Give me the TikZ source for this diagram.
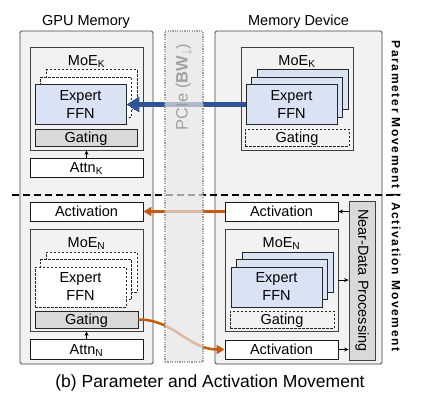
\documentclass[tikz,border=0pt]{standalone}
\usepackage{fontspec}
\setmainfont{Liberation Sans}
\usetikzlibrary{arrows.meta}

\definecolor{panelgray}{HTML}{F2F2F2}
\definecolor{edgegray}{HTML}{404040}
\definecolor{expblue}{HTML}{DAE3F3}
\definecolor{gategray}{HTML}{D9D9D9}
\definecolor{parblue}{HTML}{2F5597}
\definecolor{actorange}{HTML}{C55A11}
\definecolor{pciegray}{HTML}{E4E4E4}
\definecolor{pcietext}{HTML}{A0A0A0}

\tikzset{
  panel/.style={draw=edgegray,fill=panelgray,line width=0.8pt,rounded corners=1.5pt},
  moebox/.style={draw=edgegray,fill=panelgray,line width=0.8pt,minimum width=113,minimum height=102},
  expsolid/.style={draw=black!85,fill=expblue,line width=0.8pt,minimum width=91,minimum height=40,
    align=center,font=\fontsize{14.5}{18}\selectfont},
  expdash/.style={expsolid,fill=white,dashed,dash pattern=on 2.5pt off 1.5pt},
  gatebox/.style={draw=black!85,fill=gategray,line width=0.8pt,minimum height=17,text height=10.4pt,text depth=0pt},
  gatedash/.style={gatebox,fill=none,dashed,dash pattern=on 2.5pt off 1.5pt},
  whitebox/.style={draw=black!90,fill=white,line width=0.9pt,minimum width=113,minimum height=19,text height=10.4pt,text depth=0pt},
  ndpbox/.style={draw=edgegray,fill=gategray,line width=0.8pt,minimum width=26,minimum height=159},
  tiny/.style={->,>={Stealth[length=4.5pt,width=4pt]},line width=0.7pt},
  parmove/.style={parblue,line width=5pt,-{Triangle[length=13pt,width=15pt]}},
  actmove/.style={actorange,line width=2.5pt,-{Triangle[length=8pt,width=9pt]}},
}

\begin{document}
\begin{tikzpicture}[x=1pt,y=-1pt,every node/.style={font=\fontsize{14.5}{16}\selectfont,inner sep=0pt}]
  \useasboundingbox (0,0) rectangle (435,402);

  % two memories
  \node[panel,minimum width=133,minimum height=333] (gpu) at (86.5,197.5) {};
  \node[panel,minimum width=167,minimum height=333] (dev) at (298.5,197.5) {};
  \node[anchor=base] (gpulbl) at (86,25) {GPU Memory};
  \node[anchor=base] (devlbl) at (298.5,25) {Memory Device};

  % split between the two modes
  \coordinate (sepL) at (12,195);
  \coordinate (sepR) at (400,195);
  \draw[line width=1.2pt,dash pattern=on 7pt off 4pt] (sepL) -- (sepR);

  % --- parameter movement, GPU side
  \node[moebox,minimum height=103] (moeKL) at (86.5,98.5) {};
  \node[anchor=base] (moeKLlbl) at (86.5,65) {MoE\textsubscript{K}};
  \node[expdash] (eKLb) at (91.5,89.5) {};
  \node[expdash] (eKLm) at (86,97) {};
  \node[expsolid] (eKL) at (80.5,104.5) {Expert\\FFN};
  \node[gatebox,minimum width=102] (gKL) at (86,137.5) {Gating};
  \node[whitebox] (attnK) at (86.5,167.5) {Attn\textsubscript{K}};
  \draw[tiny] (attnK) -- (moeKL);

  % --- parameter movement, device side
  \node[moebox,minimum width=112,minimum height=103] (moeKR) at (297,98.5) {};
  \node[anchor=base] (moeKRlbl) at (297,65) {MoE\textsubscript{K}};
  \node[expsolid] (eKRb) at (302.5,89.5) {};
  \node[expsolid] (eKRm) at (297,97) {};
  \node[expsolid] (eKR) at (291.5,104.5) {Expert\\FFN};
  \node[gatedash,minimum width=104] (gKR) at (297,137.5) {Gating};

  % --- activation movement, GPU side
  \node[whitebox] (actL) at (86.5,211.5) {Activation};
  \node[moebox] (moeNL) at (86.5,280) {};
  \node[anchor=base] (moeNLlbl) at (86.5,247) {MoE\textsubscript{N}};
  \node[expdash] (eNLb) at (91.5,272) {};
  \node[expdash] (eNLm) at (86,279.5) {};
  \node[expdash] (eNL) at (80.5,287) {Expert\\FFN};
  \node[gatebox,minimum width=103] (gNL) at (86.5,319.5) {Gating};
  \node[whitebox,minimum height=20] (attnN) at (86.5,349) {Attn\textsubscript{N}};
  \draw[tiny] (attnN) -- (moeNL);

  % --- activation movement, device side
  \node[whitebox] (actR1) at (281.5,211.5) {Activation};
  \node[moebox] (moeNR) at (281.5,280) {};
  \node[anchor=base] (moeNRlbl) at (281.5,247) {MoE\textsubscript{N}};
  \node[expsolid] (eNRb) at (287.5,272) {};
  \node[expsolid] (eNRm) at (282,279.5) {};
  \node[expsolid] (eNR) at (276.5,287) {Expert\\FFN};
  \node[gatedash,minimum width=104] (gNR) at (282,319.5) {Gating};
  \node[whitebox] (actR2) at (281.5,349.5) {Activation};
  \node[ndpbox] (ndp) at (362,280.5) {};
  \node[rotate=-90] (ndplbl) at (ndp.center) {Near-Data Processing};
  \draw[tiny] (moeNR.east) -- (moeNR.east -| ndp.west);
  \draw[tiny] (ndp.west |- actR1.east) -- (actR1.east);
  \draw[tiny] (actR2.east) -- (actR2.east -| ndp.west);

  % movements over the link
  \draw[parmove] (eKR.west) -- (eKL.east);
  \draw[actmove] (actR1.west) -- (actL.east);
  \draw[actmove] (gNL.east) to[out=0,in=180] (actR2.west);

  % PCIe link
  \node[draw=gray!75,line width=1.2pt,dash pattern=on 1.2pt off 1.2pt,fill=pciegray,fill opacity=0.7,
    minimum width=38,minimum height=331] (pcie) at (184,196.5) {};
  \node[rotate=90,text=pcietext,font=\fontsize{16.5}{18}\selectfont] (pcielbl) at (184,87)
    {PCIe (\textbf{BW}$_{\downarrow}$)};

  \node[rotate=-90,font=\bfseries\fontsize{12}{13}\selectfont\addfontfeature{LetterSpace=14}] (sidelbl)
    at (395,196) {Parameter Movement | Activation Movement};
  \node[anchor=base,font=\fontsize{17.5}{20}\selectfont] (caption) at (210,387)
    {(b) Parameter and Activation Movement};
\end{tikzpicture}
\end{document}
